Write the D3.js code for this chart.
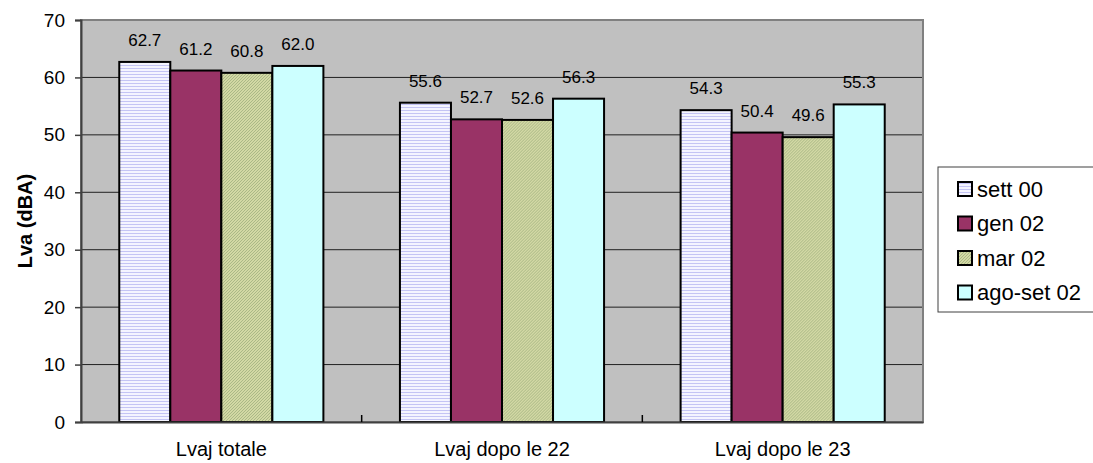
<!DOCTYPE html>
<html lang="it">
<head>
<meta charset="UTF-8">
<title>Lva</title>
<script src="https://d3js.org/d3.v7.min.js"></script>
<style>
    body { margin: 0; background: #fff; }
    text { font-family: "Liberation Sans", Arial, sans-serif; fill: #000; }
</style>
</head>
<body>
<div id="chart"></div>
<script>
    // data
    const categories = ["Lvaj totale", "Lvaj dopo le 22", "Lvaj dopo le 23"]
    const seriesNames = ["sett 00", "gen 02", "mar 02", "ago-set 02"]
    const sett00 = [62.7, 55.6, 54.3]
    const gen02 = [61.2, 52.7, 50.4]
    const mar02 = [60.8, 52.6, 49.6]
    const agoSet02 = [62.0, 56.3, 55.3]
    const yTicks = [0, 10, 20, 30, 40, 50, 60, 70]

    const seriesValues = [sett00, gen02, mar02, agoSet02]
    const fills = ["url(#stripes)", "#993366", "url(#hatch)", "#ccffff"]

    const W = 1093, H = 463
    const MARGIN = { LEFT: 81, RIGHT: 170, TOP: 20, BOTTOM: 41 }
    const WIDTH = W - MARGIN.LEFT - MARGIN.RIGHT
    const HEIGHT = H - MARGIN.TOP - MARGIN.BOTTOM

    const svg = d3.select("#chart").append("svg")
        .attr("width", W)
        .attr("height", H)

    // fill patterns
    const defs = svg.append("defs")
    const p1 = defs.append("pattern").attr("id", "stripes")
        .attr("patternUnits", "userSpaceOnUse").attr("width", 4).attr("height", 3)
    p1.append("rect").attr("width", 4).attr("height", 3).attr("fill", "#f4f4ff")
    p1.append("rect").attr("width", 4).attr("height", 1).attr("fill", "#c4c4f4")

    const p2 = defs.append("pattern").attr("id", "hatch")
        .attr("patternUnits", "userSpaceOnUse").attr("width", 3).attr("height", 3)
    p2.append("rect").attr("width", 3).attr("height", 3).attr("fill", "#d2d8a4")
    p2.append("path").attr("d", "M0,3 L3,0").attr("stroke", "#aab886").attr("stroke-width", 1)

    const g = svg.append("g")
        .attr("transform", `translate(${MARGIN.LEFT}, ${MARGIN.TOP})`)

    const x0 = d3.scaleBand().domain(categories).range([0, WIDTH])
    // Excel gap width 150% -> 0.75 bar of space on each side of a group
    const x1 = d3.scaleBand().domain(seriesNames)
        .range([0, x0.bandwidth()])
        .paddingInner(0)
        .paddingOuter(0.75)

    const y = d3.scaleLinear().domain([0, 70]).range([HEIGHT, 0])

    // plot background
    g.append("rect")
        .attr("width", WIDTH).attr("height", HEIGHT)
        .attr("fill", "#c0c0c0")

    // gridlines
    g.append("g").selectAll("line")
        .data(yTicks.filter(d => d > 0 && d < 70))
        .join("line")
        .attr("x1", 0).attr("x2", WIDTH)
        .attr("y1", d => y(d)).attr("y2", d => y(d))
        .attr("stroke", "#202020").attr("stroke-width", 1)

    // plot border
    g.append("rect")
        .attr("width", WIDTH).attr("height", HEIGHT)
        .attr("fill", "none")
        .attr("stroke", "#808080").attr("stroke-width", 2)

    // bars
    const groups = g.append("g").selectAll("g")
        .data(categories)
        .join("g")
        .attr("transform", d => `translate(${x0(d)},0)`)

    const rows = (c, ci) => seriesNames.map((s, si) => ({ s, si, v: seriesValues[si][ci] }))

    groups.selectAll("rect")
        .data(rows)
        .join("rect")
        .attr("x", d => x1(d.s))
        .attr("y", d => y(d.v))
        .attr("width", x1.bandwidth())
        .attr("height", d => HEIGHT - y(d.v))
        .attr("fill", d => fills[d.si])
        .attr("stroke", "#000")
        .attr("stroke-width", 2)

    groups.selectAll("text")
        .data(rows)
        .join("text")
        .attr("x", d => x1(d.s) + x1.bandwidth() / 2)
        .attr("y", d => y(d.v) - 16)
        .attr("text-anchor", "middle")
        .attr("font-size", "17px")
        .text(d => d.v.toFixed(1))

    // y axis
    const yAxis = g.append("g")
        .call(d3.axisLeft(y).tickValues(yTicks).tickSize(6).tickPadding(10).tickFormat(d3.format("d")))
    yAxis.select(".domain").attr("stroke", "#404040").attr("stroke-width", 2)
    yAxis.selectAll(".tick line").attr("stroke", "#404040").attr("stroke-width", 1.5)
    yAxis.selectAll(".tick text")
        .attr("font-size", "19px")
        .attr("font-family", "Liberation Sans, Arial, sans-serif")

    // x axis
    const xAxis = g.append("g")
        .attr("transform", `translate(0, ${HEIGHT})`)
        .call(d3.axisBottom(x0).tickSize(0).tickPadding(20))
    xAxis.select(".domain").attr("stroke", "#404040").attr("stroke-width", 2)
    xAxis.selectAll(".tick text")
        .attr("font-size", "20px")
        .attr("font-family", "Liberation Sans, Arial, sans-serif")

    // category separator ticks (inside)
    g.append("g").selectAll("line")
        .data(categories.slice(1))
        .join("line")
        .attr("x1", d => x0(d)).attr("x2", d => x0(d))
        .attr("y1", HEIGHT).attr("y2", HEIGHT - 7)
        .attr("stroke", "#000").attr("stroke-width", 1.5)

    // y label
    svg.append("text")
        .attr("transform", `translate(32, ${MARGIN.TOP + HEIGHT / 2}) rotate(-90)`)
        .attr("text-anchor", "middle")
        .attr("font-size", "20px")
        .attr("font-weight", "bold")
        .text("Lva (dBA)")

    // legend
    const legend = svg.append("g").attr("transform", "translate(938, 167)")
    legend.append("rect")
        .attr("width", 170).attr("height", 145)
        .attr("fill", "#fff")
        .attr("stroke", "#404040").attr("stroke-width", 1)

    const items = legend.selectAll("g.item")
        .data(seriesNames)
        .join("g")
        .attr("class", "item")
        .attr("transform", (d, i) => `translate(20, ${22 + i * 34.5})`)
    items.append("rect")
        .attr("x", 0).attr("y", -7)
        .attr("width", 14).attr("height", 14)
        .attr("fill", (d, i) => fills[i])
        .attr("stroke", "#000").attr("stroke-width", 2)
    items.append("text")
        .attr("x", 19).attr("dy", "0.36em")
        .attr("font-size", "22px")
        .text(d => d)
</script>
</body>
</html>
